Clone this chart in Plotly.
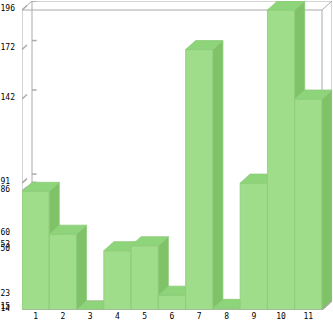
import plotly.graph_objects as go

categories = ["1", "2", "3", "4", "5", "6", "7", "8", "9", "10", "11"]
values = [86, 60, 14, 50, 53, 23, 172, 15, 91, 196, 142]

Y_MIN = min(values)
Y_MAX = max(values)
DX = 0.3667   # depth offset in x units
DY = 5.46     # depth offset in y units

FRONT = "#9fdd8a"
SIDE = "#7fc268"
TOP = "#8ed47a"
EDGE = "#8dcb7a"
GRID = "#aaaaaa"
FONT = dict(family="DejaVu Sans Mono", size=8, color="#000000")

pos = list(range(1, len(values) + 1))
x0, x1 = 0.5, len(values) + 0.5

fig = go.Figure()

# wireframe box
fx, fy = [], []
def seg(xs, ys):
    fx.extend(xs + [None]); fy.extend(ys + [None])
seg([x0 + DX, x1 + DX, x1 + DX, x0 + DX, x0 + DX], [Y_MIN + DY, Y_MIN + DY, Y_MAX + DY, Y_MAX + DY, Y_MIN + DY])
seg([x0, x1, x1, x0, x0], [Y_MIN, Y_MIN, Y_MAX, Y_MAX, Y_MIN])
for cx in (x0, x1):
    for cy in (Y_MIN, Y_MAX):
        seg([cx, cx + DX], [cy, cy + DY])
fig.add_trace(go.Scatter(x=fx, y=fy, mode="lines", line=dict(color=GRID, width=1),
                         hoverinfo="skip", showlegend=False))

# y tick marks (diagonal stub + back tick)
tx, ty = [], []
for v in sorted(set(values)):
    tx += [x0, x0 + DX * 0.5, None, x0 + DX, x0 + DX + 0.17, None]
    ty += [v, v + DY * 0.5, None, v + DY, v + DY, None]
fig.add_trace(go.Scatter(x=tx, y=ty, mode="lines", line=dict(color=GRID, width=1.5),
                         hoverinfo="skip", showlegend=False))

# 3D bars, painted left to right
for p, v in zip(pos, values):
    l, r = p - 0.5, p + 0.5
    faces = [
        ([l, r, r, l, l], [Y_MIN, Y_MIN, v, v, Y_MIN], FRONT),
        ([r, r + DX, r + DX, r, r], [Y_MIN, Y_MIN + DY, v + DY, v, Y_MIN], SIDE),
        ([l, r, r + DX, l + DX, l], [v, v, v + DY, v + DY, v], TOP),
    ]
    for xs, ys, col in faces:
        fig.add_trace(go.Scatter(x=xs, y=ys, mode="lines", fill="toself", fillcolor=col,
                                 line=dict(color=EDGE, width=0.8), hoverinfo="skip",
                                 showlegend=False))

# front floor edge over the bars
fig.add_trace(go.Scatter(x=[x0, x1, x1 + DX], y=[Y_MIN, Y_MIN, Y_MIN + DY], mode="lines",
                         line=dict(color=GRID, width=1.2), hoverinfo="skip", showlegend=False))

ytext = [str(v) + "\u00a0" * (3 - len(str(v))) for v in values]

fig.update_layout(
    width=333, height=321,
    margin=dict(l=22, r=1, t=1, b=11),
    paper_bgcolor="white", plot_bgcolor="white",
    showlegend=False,
    xaxis=dict(range=[x0, x1 + DX], tickvals=pos, ticktext=categories, showgrid=False,
               zeroline=False, showline=False, ticks="", tickfont=FONT, fixedrange=True),
    yaxis=dict(range=[Y_MIN, Y_MAX + DY], tickvals=values, ticktext=ytext, showgrid=False,
               zeroline=False, showline=False, ticks="", tickfont=FONT, ticklabelshift=-2,
               ticklabelstandoff=6, fixedrange=True),
)

fig.write_html("out.html")
